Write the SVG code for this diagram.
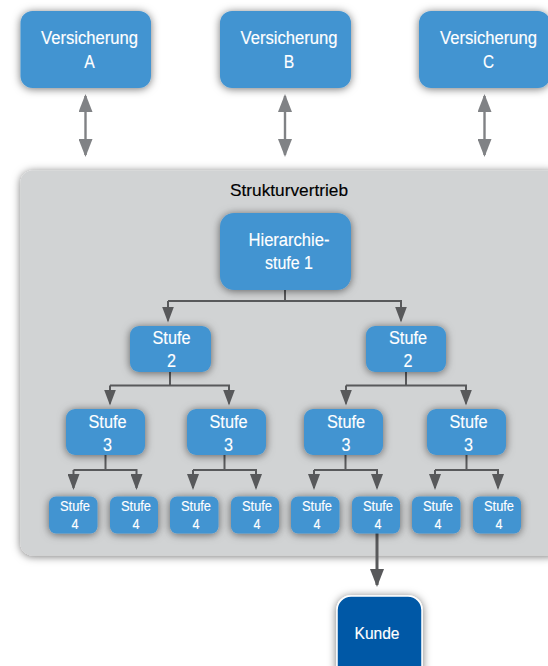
<svg xmlns="http://www.w3.org/2000/svg" width="548" height="666" viewBox="0 0 548 666">
<style>
text{font-family:"Liberation Sans",Arial,sans-serif;text-anchor:middle;fill:#fff;stroke:#fff;stroke-width:.15;lengthAdjust:spacingAndGlyphs}
.b{fill:#4394d1;filter:url(#s)}
.t16{font-size:18px}
.t13{font-size:14px}
.tree{fill:none;stroke:#58595b;stroke-width:2}
.dbl{fill:none;stroke:#808285;stroke-width:2.4;marker-start:url(#ag);marker-end:url(#ag)}
.arr{fill:none;stroke:#58595b;stroke-width:2;marker-end:url(#ad)}
</style>
<defs>
<filter id="s" x="-30%" y="-30%" width="160%" height="160%"><feDropShadow dx="0" dy="1" stdDeviation="4" flood-color="#000" flood-opacity=".55"/></filter>
<marker id="ag" viewBox="0 0 18 14" refX="16" refY="7" markerUnits="userSpaceOnUse" markerWidth="18" markerHeight="14" orient="auto-start-reverse"><path d="M0 0L18 7L0 14Z" fill="#808285"/></marker>
<marker id="ad" viewBox="0 0 16 12" refX="14" refY="6" markerUnits="userSpaceOnUse" markerWidth="16" markerHeight="12" orient="auto"><path d="M0 0L16 6L0 12Z" fill="#58595b"/></marker>
<marker id="ak" viewBox="0 0 18 14" refX="16" refY="7" markerUnits="userSpaceOnUse" markerWidth="18" markerHeight="14" orient="auto"><path d="M0 0L18 7L0 14Z" fill="#58595b"/></marker>
</defs>
<g id="panel"><rect x="20.500" y="170.500" width="540" height="385" rx="12" fill="#d1d3d4" filter="url(#s)"/><text x="289" y="196" font-size="17" textLength="118" lengthAdjust="spacingAndGlyphs" style="fill:#000;stroke:#000">Strukturvertrieb</text></g>
<g id="connectors">
<path class="dbl" d="M85.500 96V155"/><path class="dbl" d="M285 96V155"/><path class="dbl" d="M484.500 96V155"/>
<path class="tree" d="M285 290V301"/><path class="arr" d="M168 301H168V320.500"/><path class="arr" d="M168 301H401V320.500"/>
<path class="tree" d="M170 372V385.500"/><path class="arr" d="M110 385.500H110V403.500"/><path class="arr" d="M110 385.500H229V403.500"/>
<path class="tree" d="M406 372V385.500"/><path class="arr" d="M346 385.500H346V403.500"/><path class="arr" d="M346 385.500H466V403.500"/>
<path class="tree" d="M105.500 455V470"/><path class="arr" d="M73.500 470H73.500V488"/><path class="arr" d="M73.500 470H136.500V488"/>
<path class="tree" d="M224.500 455V470"/><path class="arr" d="M193 470H193V488"/><path class="arr" d="M193 470H256V488"/>
<path class="tree" d="M345.500 455V470"/><path class="arr" d="M314 470H314V488"/><path class="arr" d="M314 470H377V488"/>
<path class="tree" d="M466.500 455V470"/><path class="arr" d="M435 470H435V488"/><path class="arr" d="M435 470H498V488"/>
<path d="M377 533V585" fill="none" stroke="#58595b" stroke-width="3" marker-end="url(#ak)"/>
</g>
<g id="vA"><rect class="b" x="20.500" y="11" width="130.500" height="77" rx="12"/><text class="t16" x="89.500" y="44" textLength="97" lengthAdjust="spacingAndGlyphs">Versicherung</text><text class="t16" x="89.500" y="68" textLength="10.500" lengthAdjust="spacingAndGlyphs">A</text></g>
<g id="vB"><rect class="b" x="220" y="11" width="131" height="77" rx="12"/><text class="t16" x="289" y="44" textLength="97" lengthAdjust="spacingAndGlyphs">Versicherung</text><text class="t16" x="289" y="68" textLength="10.500" lengthAdjust="spacingAndGlyphs">B</text></g>
<g id="vC"><rect class="b" x="419" y="11" width="131" height="77" rx="12"/><text class="t16" x="488.500" y="44" textLength="97" lengthAdjust="spacingAndGlyphs">Versicherung</text><text class="t16" x="488.500" y="68" textLength="11" lengthAdjust="spacingAndGlyphs">C</text></g>
<g id="h1"><rect class="b" x="220" y="213" width="131" height="77" rx="14"/><text class="t16" x="289" y="246" textLength="81" lengthAdjust="spacingAndGlyphs">Hierarchie-</text><text class="t16" x="289" y="269" textLength="48" lengthAdjust="spacingAndGlyphs">stufe 1</text></g>
<g id="s2a"><rect class="b" x="130" y="326" width="81" height="46" rx="9"/><text class="t16" x="171.500" y="344" textLength="38" lengthAdjust="spacingAndGlyphs">Stufe</text><text class="t16" x="171.500" y="367" textLength="9" lengthAdjust="spacingAndGlyphs">2</text></g>
<g id="s2b"><rect class="b" x="366" y="326" width="80" height="46" rx="9"/><text class="t16" x="408" y="344" textLength="38" lengthAdjust="spacingAndGlyphs">Stufe</text><text class="t16" x="408" y="367" textLength="9" lengthAdjust="spacingAndGlyphs">2</text></g>
<g id="s3a"><rect class="b" x="66" y="409" width="79" height="46" rx="9"/><text class="t16" x="107.500" y="428" textLength="38" lengthAdjust="spacingAndGlyphs">Stufe</text><text class="t16" x="107.500" y="450.500" textLength="9" lengthAdjust="spacingAndGlyphs">3</text></g>
<g id="s3b"><rect class="b" x="187" y="409" width="79" height="46" rx="9"/><text class="t16" x="228.500" y="428" textLength="38" lengthAdjust="spacingAndGlyphs">Stufe</text><text class="t16" x="228.500" y="450.500" textLength="9" lengthAdjust="spacingAndGlyphs">3</text></g>
<g id="s3c"><rect class="b" x="304" y="409" width="79" height="46" rx="9"/><text class="t16" x="346" y="428" textLength="38" lengthAdjust="spacingAndGlyphs">Stufe</text><text class="t16" x="346" y="450.500" textLength="9" lengthAdjust="spacingAndGlyphs">3</text></g>
<g id="s3d"><rect class="b" x="427" y="409" width="79" height="46" rx="9"/><text class="t16" x="468.500" y="428" textLength="38" lengthAdjust="spacingAndGlyphs">Stufe</text><text class="t16" x="468.500" y="450.500" textLength="9" lengthAdjust="spacingAndGlyphs">3</text></g>
<g id="s4a"><rect class="b" x="49" y="496.500" width="48.500" height="37" rx="7"/><text class="t13" x="75" y="511" textLength="30" lengthAdjust="spacingAndGlyphs">Stufe</text><text class="t13" x="75" y="529" textLength="7" lengthAdjust="spacingAndGlyphs">4</text></g>
<g id="s4b"><rect class="b" x="110" y="496.500" width="48" height="37" rx="7"/><text class="t13" x="136" y="511" textLength="30" lengthAdjust="spacingAndGlyphs">Stufe</text><text class="t13" x="136" y="529" textLength="7" lengthAdjust="spacingAndGlyphs">4</text></g>
<g id="s4c"><rect class="b" x="170" y="496.500" width="48.500" height="37" rx="7"/><text class="t13" x="196" y="511" textLength="30" lengthAdjust="spacingAndGlyphs">Stufe</text><text class="t13" x="196" y="529" textLength="7" lengthAdjust="spacingAndGlyphs">4</text></g>
<g id="s4d"><rect class="b" x="231" y="496.500" width="48" height="37" rx="7"/><text class="t13" x="257" y="511" textLength="30" lengthAdjust="spacingAndGlyphs">Stufe</text><text class="t13" x="257" y="529" textLength="7" lengthAdjust="spacingAndGlyphs">4</text></g>
<g id="s4e"><rect class="b" x="291" y="496.500" width="48.500" height="37" rx="7"/><text class="t13" x="317" y="511" textLength="30" lengthAdjust="spacingAndGlyphs">Stufe</text><text class="t13" x="317" y="529" textLength="7" lengthAdjust="spacingAndGlyphs">4</text></g>
<g id="s4f"><rect class="b" x="352" y="496.500" width="48" height="37" rx="7"/><text class="t13" x="378" y="511" textLength="30" lengthAdjust="spacingAndGlyphs">Stufe</text><text class="t13" x="378" y="529" textLength="7" lengthAdjust="spacingAndGlyphs">4</text></g>
<g id="s4g"><rect class="b" x="412" y="496.500" width="48.500" height="37" rx="7"/><text class="t13" x="438" y="511" textLength="30" lengthAdjust="spacingAndGlyphs">Stufe</text><text class="t13" x="438" y="529" textLength="7" lengthAdjust="spacingAndGlyphs">4</text></g>
<g id="s4h"><rect class="b" x="473" y="496.500" width="48" height="37" rx="7"/><text class="t13" x="499" y="511" textLength="30" lengthAdjust="spacingAndGlyphs">Stufe</text><text class="t13" x="499" y="529" textLength="7" lengthAdjust="spacingAndGlyphs">4</text></g>
<g id="kunde"><rect x="337" y="596" width="85" height="85" rx="14" fill="#0058a6" stroke="#fff" stroke-width="1.500" filter="url(#s)"/><text x="377" y="639" font-size="17" textLength="45" lengthAdjust="spacingAndGlyphs">Kunde</text></g>
</svg>
